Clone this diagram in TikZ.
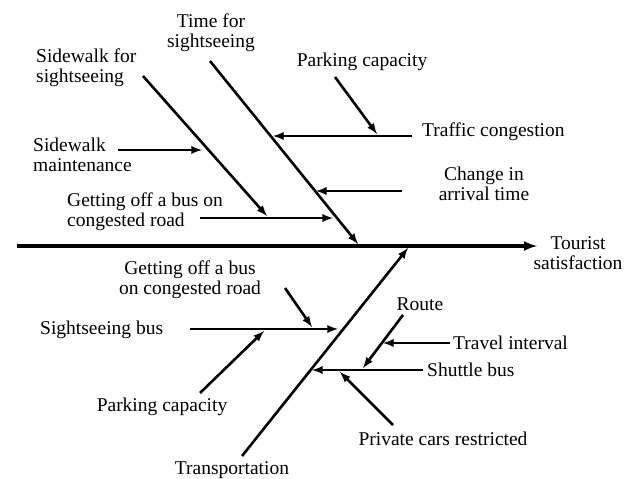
\documentclass[tikz,border=0pt]{standalone}
\usepackage{fontspec}
\setmainfont{Liberation Serif}
\usetikzlibrary{arrows}
\tikzset{>=latex}
\tikzset{lbl/.style={font=\fontsize{19.5}{20}\selectfont, align=center, inner sep=0pt},
         bone/.style={line width=2.6pt, ->}}

\begin{document}
\begin{tikzpicture}[x=1pt, y=-1pt]
\useasboundingbox (0,0) rectangle (630,479);
% labels
\node[lbl] (tourist) at (578,253) {Tourist\\satisfaction};
\node[lbl, anchor=west, align=left] (swsight) at (36,68) {Sidewalk for\\sightseeing};
\node[lbl] (timesight) at (211,33) {Time for\\sightseeing};
\node[lbl] (parkup) at (362,62) {Parking capacity};
\node[lbl, anchor=west] (traffic) at (422,132) {Traffic congestion};
\node[lbl] (change) at (484,184) {Change in\\arrival time};
\node[lbl, anchor=west, align=left] (swmaint) at (33,155) {Sidewalk\\maintenance};
\node[lbl, anchor=west, align=left] (getup) at (67,212) {Getting off a bus on\\congested road};
\node[lbl] (getlow) at (190,280) {Getting off a bus\\on congested road};
\node[lbl, anchor=west] (sbus) at (40,330) {Sightseeing bus};
\node[lbl] (parklow) at (162,407) {Parking capacity};
\node[lbl] (route) at (420,304) {Route};
\node[lbl, anchor=west] (travel) at (453,343) {Travel interval};
\node[lbl, anchor=west] (shuttle) at (427,370) {Shuttle bus};
\node[lbl] (private) at (443,439) {Private cars restricted};
\node[lbl] (transport) at (232,470) {Transportation};
% bone ends
\coordinate (sp0) at (17,246);   \coordinate (sp1) at (537,246);
\coordinate (t0) at (210,61);    \coordinate (t1) at (358,244);
\coordinate (tr0) at (242,456);  \coordinate (tr1) at (408,248);
\coordinate (sw0) at (143,76);   \coordinate (sw1) at (267,216);
\coordinate (g0) at (200,218);   \coordinate (g1) at (333,218);
\coordinate (m0) at (118,150);   \coordinate (m1) at (202,150);
\coordinate (c0) at (412,136);   \coordinate (c1) at (273,136);
\coordinate (p0) at (335,77);    \coordinate (p1) at (377,134);
\coordinate (a0) at (402,191);   \coordinate (a1) at (316,191);
\coordinate (b0) at (190,329);   \coordinate (b1) at (338,329);
\coordinate (gl0) at (285,288);  \coordinate (gl1) at (312,327);
\coordinate (pl0) at (200,393);  \coordinate (pl1) at (264,331);
\coordinate (s0) at (423,370);   \coordinate (s1) at (312,370);
\coordinate (r0) at (403,315);   \coordinate (r1) at (363,368);
\coordinate (v0) at (450,343);   \coordinate (v1) at (383,343);
\coordinate (q0) at (393,425);   \coordinate (q1) at (340,372);
% spine
\draw[bone, line width=3.4pt] (sp0) -- (sp1);
% upper half
\draw[bone] (t0) -- (t1);
\draw[bone] (sw0) -- (sw1);
\draw[bone] (g0) -- (g1);
\draw[bone] (m0) -- (m1);
\draw[bone] (c0) -- (c1);
\draw[bone] (p0) -- (p1);
\draw[bone] (a0) -- (a1);
% lower half
\draw[bone] (tr0) -- (tr1);
\draw[bone] (b0) -- (b1);
\draw[bone] (gl0) -- (gl1);
\draw[bone] (pl0) -- (pl1);
\draw[bone] (s0) -- (s1);
\draw[bone] (r0) -- (r1);
\draw[bone] (v0) -- (v1);
\draw[bone] (q0) -- (q1);
\end{tikzpicture}
\end{document}
